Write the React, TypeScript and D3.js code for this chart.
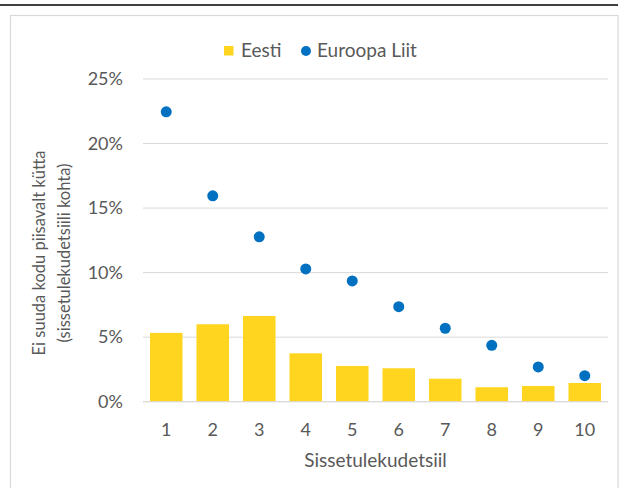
import React from "react";
import * as d3 from "d3";

const categories = ["1", "2", "3", "4", "5", "6", "7", "8", "9", "10"];
const eestiValues = [5.33, 6.0, 6.64, 3.75, 2.77, 2.59, 1.78, 1.12, 1.22, 1.45];
const euValues = [22.46, 15.95, 12.77, 10.29, 9.36, 7.36, 5.69, 4.37, 2.69, 2.02];
const yTicks = [0, 5, 10, 15, 20, 25];
const seriesNames = ["Eesti", "Euroopa Liit"];
const xTitle = "Sissetulekudetsiil";
const yTitle = ["Ei suuda kodu piisavalt kütta", "(sissetulekudetsiili kohta)"];

const W = 619;
const H = 488;
const FONT = "Lato, 'Open Sans', sans-serif";
const TEXT = "#595959";
const YELLOW = "#FFD520";
const BLUE = "#0070C0";
const FS = 18;

export default function App() {
  const x = d3.scaleBand<string>().domain(categories).range([143, 608]).paddingInner(0.3).paddingOuter(0.15);
  const y = d3.scaleLinear().domain([0, 25]).range([401.7, 79]);
  return (
    <svg width={W} height={H} style={{ position: "absolute", left: 0, top: 0 }} fontFamily={FONT}>
      <rect x={0} y={0} width={W} height={H} fill="#fff" />
      <line x1={0} x2={618} y1={5} y2={5} stroke="#000" strokeWidth={1.5} />
      <rect x={10.5} y={15.5} width={607.5} height={H} fill="none" stroke="#D9D9D9" strokeWidth={1.2} />
      {yTicks.map((t) => (
        <g key={t}>
          <line x1={143} x2={608} y1={y(t)} y2={y(t)} stroke="#D9D9D9" strokeWidth={1} />
          <text x={123} y={y(t)} dy="0.35em" textAnchor="end" fontSize={FS} fill={TEXT}>
            {t}%
          </text>
        </g>
      ))}
      {categories.map((c, i) => (
        <rect
          key={c}
          x={x(c)}
          y={y(eestiValues[i])}
          width={x.bandwidth()}
          height={y(0) - y(eestiValues[i])}
          fill={YELLOW}
        />
      ))}
      <line x1={143} x2={608} y1={y(0)} y2={y(0)} stroke="#D9D9D9" strokeWidth={1} />
      {categories.map((c, i) => (
        <circle key={c} cx={(x(c) as number) + x.bandwidth() / 2} cy={y(euValues[i])} r={5.5} fill={BLUE} />
      ))}
      {categories.map((c) => (
        <text
          key={c}
          x={(x(c) as number) + x.bandwidth() / 2}
          y={436}
          textAnchor="middle"
          fontSize={FS}
          fill={TEXT}
        >
          {c}
        </text>
      ))}
      <text x={375.5} y={467} textAnchor="middle" fontSize={19} fill={TEXT}>
        {xTitle}
      </text>
      <g transform="translate(45,253) rotate(-90)">
        <text x={0} y={0} textAnchor="middle" fontSize={16.5} fill={TEXT}>
          {yTitle[0]}
        </text>
        <text x={0} y={25} textAnchor="middle" fontSize={16.5} fill={TEXT}>
          {yTitle[1]}
        </text>
      </g>
      <rect x={224} y={46} width={9.5} height={9.5} fill={YELLOW} />
      <text x={241} y={56.5} fontSize={19} fill={TEXT}>
        {seriesNames[0]}
      </text>
      <circle cx={306} cy={51} r={5} fill={BLUE} />
      <text x={317} y={56.5} fontSize={19} fill={TEXT}>
        {seriesNames[1]}
      </text>
    </svg>
  );
}
